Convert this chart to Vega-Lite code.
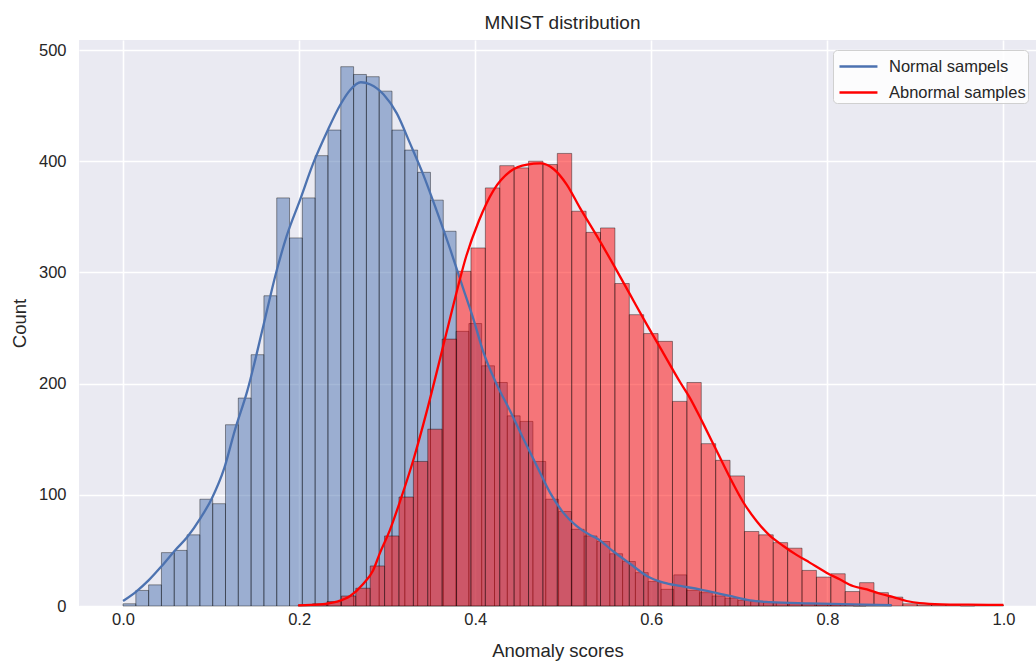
{
  "$schema": "https://vega.github.io/schema/vega-lite/v6.json",
  "width": 957,
  "height": 566,
  "autosize": {"type": "none"},
  "padding": {"left": 79, "top": 40, "right": 0, "bottom": 56},
  "background": "white",
  "title": {"text": "MNIST distribution", "fontSize": 19, "fontWeight": "normal", "font": "Liberation Sans", "color": "#262626", "anchor": "middle", "offset": 7, "dx": 5},
  "config": {
    "view": {"fill": "#eaeaf2", "stroke": null},
    "font": "Liberation Sans",
    "axis": {"domain": false, "ticks": false, "gridColor": "#ffffff", "gridWidth": 1.6, "labelColor": "#262626", "labelFontSize": 16.5, "titleColor": "#262626", "titleFontSize": 18.5, "titleFontWeight": "normal", "labelFont": "Liberation Sans", "titleFont": "Liberation Sans"}
  },
  "datasets": {
    "normal": [
      {"s": 0, "e": 0.01455, "n": 2},
      {"s": 0.01455, "e": 0.0291, "n": 14},
      {"s": 0.0291, "e": 0.04365, "n": 19},
      {"s": 0.04365, "e": 0.0582, "n": 48},
      {"s": 0.0582, "e": 0.07275, "n": 50},
      {"s": 0.07275, "e": 0.0873, "n": 64},
      {"s": 0.0873, "e": 0.10185, "n": 96},
      {"s": 0.10185, "e": 0.1164, "n": 92},
      {"s": 0.1164, "e": 0.13095, "n": 163},
      {"s": 0.13095, "e": 0.1455, "n": 187},
      {"s": 0.1455, "e": 0.16005, "n": 226},
      {"s": 0.16005, "e": 0.1746, "n": 279},
      {"s": 0.1746, "e": 0.18915, "n": 367},
      {"s": 0.18915, "e": 0.2037, "n": 331},
      {"s": 0.2037, "e": 0.21825, "n": 367},
      {"s": 0.21825, "e": 0.2328, "n": 405},
      {"s": 0.2328, "e": 0.24735, "n": 428},
      {"s": 0.24735, "e": 0.2619, "n": 485},
      {"s": 0.2619, "e": 0.27645, "n": 478},
      {"s": 0.27645, "e": 0.291, "n": 476},
      {"s": 0.291, "e": 0.30555, "n": 463},
      {"s": 0.30555, "e": 0.3201, "n": 428},
      {"s": 0.3201, "e": 0.33465, "n": 410},
      {"s": 0.33465, "e": 0.3492, "n": 390},
      {"s": 0.3492, "e": 0.36375, "n": 365},
      {"s": 0.36375, "e": 0.3783, "n": 337},
      {"s": 0.3783, "e": 0.39285, "n": 247},
      {"s": 0.39285, "e": 0.4074, "n": 254},
      {"s": 0.4074, "e": 0.42195, "n": 216},
      {"s": 0.42195, "e": 0.4365, "n": 201},
      {"s": 0.4365, "e": 0.45105, "n": 171},
      {"s": 0.45105, "e": 0.4656, "n": 166},
      {"s": 0.4656, "e": 0.48015, "n": 130},
      {"s": 0.48015, "e": 0.4947, "n": 96},
      {"s": 0.4947, "e": 0.50925, "n": 85},
      {"s": 0.50925, "e": 0.5238, "n": 69},
      {"s": 0.5238, "e": 0.53835, "n": 63},
      {"s": 0.53835, "e": 0.5529, "n": 58},
      {"s": 0.5529, "e": 0.56745, "n": 47},
      {"s": 0.56745, "e": 0.582, "n": 40},
      {"s": 0.582, "e": 0.59655, "n": 30},
      {"s": 0.59655, "e": 0.6111, "n": 22},
      {"s": 0.6111, "e": 0.62565, "n": 15},
      {"s": 0.62565, "e": 0.6402, "n": 28},
      {"s": 0.6402, "e": 0.65475, "n": 14},
      {"s": 0.65475, "e": 0.6693, "n": 12},
      {"s": 0.6693, "e": 0.68385, "n": 9},
      {"s": 0.68385, "e": 0.6984, "n": 7},
      {"s": 0.6984, "e": 0.71295, "n": 5},
      {"s": 0.71295, "e": 0.7275, "n": 4},
      {"s": 0.7275, "e": 0.74205, "n": 3},
      {"s": 0.74205, "e": 0.7566, "n": 3},
      {"s": 0.7566, "e": 0.77115, "n": 2},
      {"s": 0.77115, "e": 0.7857, "n": 2},
      {"s": 0.7857, "e": 0.80025, "n": 1},
      {"s": 0.80025, "e": 0.8148, "n": 1},
      {"s": 0.8148, "e": 0.82935, "n": 1},
      {"s": 0.82935, "e": 0.8439, "n": 0},
      {"s": 0.8439, "e": 0.85845, "n": 1},
      {"s": 0.85845, "e": 0.873, "n": 1}
    ],
    "abnormal": [
      {"s": 0.199, "e": 0.21535, "n": 1},
      {"s": 0.21535, "e": 0.2317, "n": 2},
      {"s": 0.2317, "e": 0.24805, "n": 4},
      {"s": 0.24805, "e": 0.2644, "n": 9},
      {"s": 0.2644, "e": 0.28075, "n": 16},
      {"s": 0.28075, "e": 0.2971, "n": 36},
      {"s": 0.2971, "e": 0.31345, "n": 63},
      {"s": 0.31345, "e": 0.3298, "n": 98},
      {"s": 0.3298, "e": 0.34615, "n": 130},
      {"s": 0.34615, "e": 0.3625, "n": 159},
      {"s": 0.3625, "e": 0.37885, "n": 240},
      {"s": 0.37885, "e": 0.3952, "n": 301},
      {"s": 0.3952, "e": 0.41155, "n": 322},
      {"s": 0.41155, "e": 0.4279, "n": 376},
      {"s": 0.4279, "e": 0.44425, "n": 396},
      {"s": 0.44425, "e": 0.4606, "n": 394},
      {"s": 0.4606, "e": 0.47695, "n": 400},
      {"s": 0.47695, "e": 0.4933, "n": 397},
      {"s": 0.4933, "e": 0.50965, "n": 407},
      {"s": 0.50965, "e": 0.526, "n": 355},
      {"s": 0.526, "e": 0.54235, "n": 336},
      {"s": 0.54235, "e": 0.5587, "n": 340},
      {"s": 0.5587, "e": 0.57505, "n": 290},
      {"s": 0.57505, "e": 0.5914, "n": 262},
      {"s": 0.5914, "e": 0.60775, "n": 245},
      {"s": 0.60775, "e": 0.6241, "n": 238},
      {"s": 0.6241, "e": 0.64045, "n": 184},
      {"s": 0.64045, "e": 0.6568, "n": 201},
      {"s": 0.6568, "e": 0.67315, "n": 146},
      {"s": 0.67315, "e": 0.6895, "n": 131},
      {"s": 0.6895, "e": 0.70585, "n": 117},
      {"s": 0.70585, "e": 0.7222, "n": 67},
      {"s": 0.7222, "e": 0.73855, "n": 64},
      {"s": 0.73855, "e": 0.7549, "n": 57},
      {"s": 0.7549, "e": 0.77125, "n": 52},
      {"s": 0.77125, "e": 0.7876, "n": 32},
      {"s": 0.7876, "e": 0.80395, "n": 26},
      {"s": 0.80395, "e": 0.8203, "n": 29},
      {"s": 0.8203, "e": 0.83665, "n": 13},
      {"s": 0.83665, "e": 0.853, "n": 21},
      {"s": 0.853, "e": 0.86935, "n": 12},
      {"s": 0.86935, "e": 0.8857, "n": 8},
      {"s": 0.8857, "e": 0.90205, "n": 2},
      {"s": 0.90205, "e": 0.9184, "n": 1},
      {"s": 0.9184, "e": 0.93475, "n": 1},
      {"s": 0.93475, "e": 0.9511, "n": 1},
      {"s": 0.9511, "e": 0.96745, "n": 0},
      {"s": 0.96745, "e": 0.9838, "n": 1},
      {"s": 0.9838, "e": 1.0, "n": 1}
    ],
    "kde": [
      {"series": "Normal sampels", "x": 0.0, "y": 4.5},
      {"series": "Normal sampels", "x": 0.015, "y": 13},
      {"series": "Normal sampels", "x": 0.029, "y": 23},
      {"series": "Normal sampels", "x": 0.044, "y": 36},
      {"series": "Normal sampels", "x": 0.059, "y": 50},
      {"series": "Normal sampels", "x": 0.073, "y": 62},
      {"series": "Normal sampels", "x": 0.088, "y": 79},
      {"series": "Normal sampels", "x": 0.101, "y": 97},
      {"series": "Normal sampels", "x": 0.115, "y": 124},
      {"series": "Normal sampels", "x": 0.127, "y": 158},
      {"series": "Normal sampels", "x": 0.141, "y": 193},
      {"series": "Normal sampels", "x": 0.160, "y": 254},
      {"series": "Normal sampels", "x": 0.173, "y": 297},
      {"series": "Normal sampels", "x": 0.186, "y": 333},
      {"series": "Normal sampels", "x": 0.201, "y": 365},
      {"series": "Normal sampels", "x": 0.216, "y": 398},
      {"series": "Normal sampels", "x": 0.232, "y": 427},
      {"series": "Normal sampels", "x": 0.247, "y": 451},
      {"series": "Normal sampels", "x": 0.258, "y": 464},
      {"series": "Normal sampels", "x": 0.270, "y": 471},
      {"series": "Normal sampels", "x": 0.281, "y": 469},
      {"series": "Normal sampels", "x": 0.296, "y": 460},
      {"series": "Normal sampels", "x": 0.311, "y": 443},
      {"series": "Normal sampels", "x": 0.326, "y": 416},
      {"series": "Normal sampels", "x": 0.341, "y": 388},
      {"series": "Normal sampels", "x": 0.356, "y": 356},
      {"series": "Normal sampels", "x": 0.372, "y": 320},
      {"series": "Normal sampels", "x": 0.387, "y": 284},
      {"series": "Normal sampels", "x": 0.398, "y": 258},
      {"series": "Normal sampels", "x": 0.409, "y": 229},
      {"series": "Normal sampels", "x": 0.424, "y": 200},
      {"series": "Normal sampels", "x": 0.440, "y": 175},
      {"series": "Normal sampels", "x": 0.455, "y": 150},
      {"series": "Normal sampels", "x": 0.470, "y": 126},
      {"series": "Normal sampels", "x": 0.485, "y": 102},
      {"series": "Normal sampels", "x": 0.500, "y": 84},
      {"series": "Normal sampels", "x": 0.515, "y": 72},
      {"series": "Normal sampels", "x": 0.530, "y": 64},
      {"series": "Normal sampels", "x": 0.538, "y": 61},
      {"series": "Normal sampels", "x": 0.557, "y": 49},
      {"series": "Normal sampels", "x": 0.576, "y": 38},
      {"series": "Normal sampels", "x": 0.595, "y": 27},
      {"series": "Normal sampels", "x": 0.614, "y": 21},
      {"series": "Normal sampels", "x": 0.633, "y": 18},
      {"series": "Normal sampels", "x": 0.655, "y": 15},
      {"series": "Normal sampels", "x": 0.667, "y": 13},
      {"series": "Normal sampels", "x": 0.689, "y": 9},
      {"series": "Normal sampels", "x": 0.712, "y": 5},
      {"series": "Normal sampels", "x": 0.735, "y": 3.5},
      {"series": "Normal sampels", "x": 0.780, "y": 2.4},
      {"series": "Normal sampels", "x": 0.830, "y": 1.5},
      {"series": "Normal sampels", "x": 0.873, "y": 0.8},
      {"series": "Abnormal samples", "x": 0.199, "y": 0.6},
      {"series": "Abnormal samples", "x": 0.224, "y": 1.5},
      {"series": "Abnormal samples", "x": 0.243, "y": 4},
      {"series": "Abnormal samples", "x": 0.258, "y": 9},
      {"series": "Abnormal samples", "x": 0.273, "y": 20},
      {"series": "Abnormal samples", "x": 0.284, "y": 32},
      {"series": "Abnormal samples", "x": 0.292, "y": 48},
      {"series": "Abnormal samples", "x": 0.303, "y": 68},
      {"series": "Abnormal samples", "x": 0.315, "y": 95},
      {"series": "Abnormal samples", "x": 0.330, "y": 132},
      {"series": "Abnormal samples", "x": 0.345, "y": 175},
      {"series": "Abnormal samples", "x": 0.360, "y": 222},
      {"series": "Abnormal samples", "x": 0.375, "y": 270},
      {"series": "Abnormal samples", "x": 0.390, "y": 315},
      {"series": "Abnormal samples", "x": 0.404, "y": 346},
      {"series": "Abnormal samples", "x": 0.421, "y": 374},
      {"series": "Abnormal samples", "x": 0.440, "y": 391},
      {"series": "Abnormal samples", "x": 0.459, "y": 397},
      {"series": "Abnormal samples", "x": 0.474, "y": 398},
      {"series": "Abnormal samples", "x": 0.489, "y": 393},
      {"series": "Abnormal samples", "x": 0.504, "y": 379},
      {"series": "Abnormal samples", "x": 0.519, "y": 358},
      {"series": "Abnormal samples", "x": 0.538, "y": 333},
      {"series": "Abnormal samples", "x": 0.557, "y": 307},
      {"series": "Abnormal samples", "x": 0.576, "y": 280},
      {"series": "Abnormal samples", "x": 0.595, "y": 253},
      {"series": "Abnormal samples", "x": 0.614, "y": 227},
      {"series": "Abnormal samples", "x": 0.633, "y": 201},
      {"series": "Abnormal samples", "x": 0.644, "y": 187},
      {"series": "Abnormal samples", "x": 0.659, "y": 164},
      {"series": "Abnormal samples", "x": 0.674, "y": 140},
      {"series": "Abnormal samples", "x": 0.689, "y": 116},
      {"series": "Abnormal samples", "x": 0.704, "y": 94},
      {"series": "Abnormal samples", "x": 0.720, "y": 76},
      {"series": "Abnormal samples", "x": 0.735, "y": 63},
      {"series": "Abnormal samples", "x": 0.750, "y": 54},
      {"series": "Abnormal samples", "x": 0.765, "y": 46},
      {"series": "Abnormal samples", "x": 0.780, "y": 39},
      {"series": "Abnormal samples", "x": 0.799, "y": 30},
      {"series": "Abnormal samples", "x": 0.814, "y": 24},
      {"series": "Abnormal samples", "x": 0.829, "y": 18},
      {"series": "Abnormal samples", "x": 0.845, "y": 15},
      {"series": "Abnormal samples", "x": 0.860, "y": 11},
      {"series": "Abnormal samples", "x": 0.875, "y": 8},
      {"series": "Abnormal samples", "x": 0.890, "y": 4.5},
      {"series": "Abnormal samples", "x": 0.905, "y": 2.5},
      {"series": "Abnormal samples", "x": 0.930, "y": 1.5},
      {"series": "Abnormal samples", "x": 0.960, "y": 1.2},
      {"series": "Abnormal samples", "x": 1.0, "y": 1}
    ]
  },
  "layer": [
    {
      "data": {"name": "normal"},
      "mark": {"type": "rect", "fill": "#4c72b0", "fillOpacity": 0.5, "stroke": "#000000", "strokeOpacity": 0.4, "strokeWidth": 1},
      "encoding": {
        "x": {"field": "s", "type": "quantitative", "scale": {"domain": [-0.05, 1.037], "nice": false, "zero": false}, "axis": {"values": [0, 0.2, 0.4, 0.6, 0.8, 1.0], "format": ".1f", "title": "Anomaly scores", "labelPadding": 5, "titlePadding": 14}},
        "x2": {"field": "e"},
        "y": {"field": "n", "type": "quantitative", "scale": {"domain": [0, 509], "nice": false}, "axis": {"values": [0, 100, 200, 300, 400, 500], "title": "Count", "labelPadding": 13, "titlePadding": 9}},
        "y2": {"datum": 0}
      }
    },
    {
      "data": {"name": "abnormal"},
      "mark": {"type": "rect", "fill": "#ff0000", "fillOpacity": 0.5, "stroke": "#000000", "strokeOpacity": 0.4, "strokeWidth": 1},
      "encoding": {
        "x": {"field": "s", "type": "quantitative"},
        "x2": {"field": "e"},
        "y": {"field": "n", "type": "quantitative"},
        "y2": {"datum": 0}
      }
    },
    {
      "data": {"name": "kde"},
      "mark": {"type": "line", "strokeWidth": 2.3, "interpolate": "monotone"},
      "encoding": {
        "x": {"field": "x", "type": "quantitative"},
        "y": {"field": "y", "type": "quantitative"},
        "color": {
          "field": "series", "type": "nominal",
          "scale": {"domain": ["Normal sampels", "Abnormal samples"], "range": ["#4c72b0", "#ff0000"]},
          "legend": {"title": null, "orient": "none", "legendX": 754, "legendY": 10, "fillColor": "rgba(255,255,255,0.85)", "strokeColor": "#d0d0d0", "cornerRadius": 4, "padding": 2, "symbolType": "M-0.77,0H2.15", "symbolSize": 676, "symbolStrokeWidth": 2.5, "labelFontSize": 16.5, "labelColor": "#262626", "labelFont": "Liberation Sans", "labelOffset": 25, "rowPadding": 3}
        }
      }
    }
  ]
}
